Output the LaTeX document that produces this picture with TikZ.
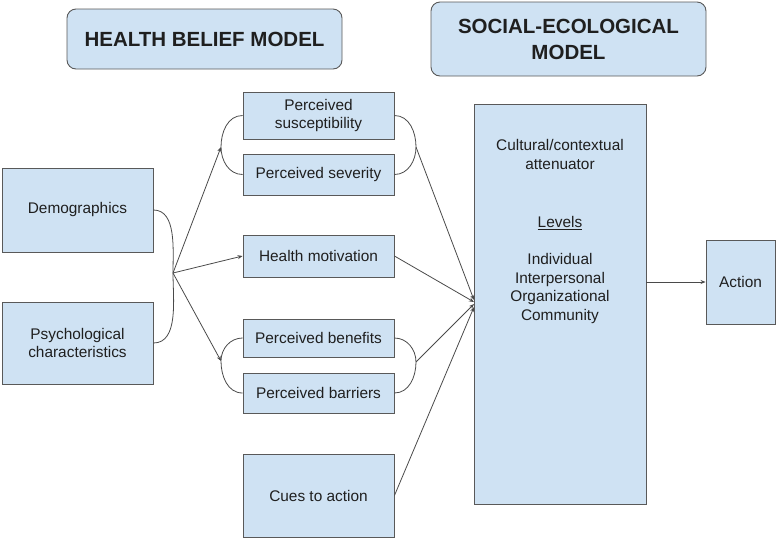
\documentclass[tikz,border=0pt]{standalone}
\usepackage{fontspec}
\setmainfont{Liberation Sans}
\usetikzlibrary{arrows.meta}
\definecolor{boxfill}{HTML}{CFE2F3}
\definecolor{boxline}{HTML}{595959}
\definecolor{conn}{HTML}{4A4A4A}
\definecolor{txt}{HTML}{1F1F1F}
\tikzset{
  box/.style={draw=boxline, fill=boxfill, line width=0.9pt, inner sep=0pt, align=center,
    text=txt, font=\fontsize{15.4}{18.6}\selectfont},
  titlebox/.style={box, rounded corners=9pt, font=\fontsize{20.5}{26}\selectfont\bfseries},
  link/.style={draw=conn, line width=0.8pt},
  arr/.style={link, -{Stealth[length=5pt,width=4pt]}},
}
\begin{document}
\begin{tikzpicture}[x=1pt,y=-1pt]
\useasboundingbox (0,0) rectangle (777,539);
% titles
\node[titlebox, minimum width=275pt, minimum height=60pt] (hbm) at (204.5,39) {HEALTH BELIEF MODEL};
\node[titlebox, minimum width=275pt, minimum height=74pt] (sem) at (568.5,39) {SOCIAL-ECOLOGICAL\\MODEL};
% left boxes
\node[box, minimum width=151pt, minimum height=84pt] (dem) at (77.5,210) {Demographics};
\node[box, minimum width=151pt, minimum height=82pt] (psy) at (77.5,343) {Psychological\\characteristics};
% middle boxes
\node[box, minimum width=151pt, minimum height=47pt] (sus) at (318.5,115.5) {Perceived\\susceptibility};
\node[box, minimum width=151pt, minimum height=41pt] (sev) at (318.5,174.5) {Perceived severity};
\node[box, minimum width=151pt, minimum height=42pt] (mot) at (318.5,256) {Health motivation};
\node[box, minimum width=151pt, minimum height=38pt] (ben) at (318.5,338) {Perceived benefits};
\node[box, minimum width=151pt, minimum height=40pt] (bar) at (318.5,393) {Perceived barriers};
\node[box, minimum width=151pt, minimum height=83pt] (cue) at (318.5,495.5) {Cues to action};
% SEM big box
\node[box, minimum width=172pt, minimum height=400pt] (big) at (560,304) {};
\node[align=center, text=txt, font=\fontsize{15.4}{18.6}\selectfont, anchor=north] (bigtxt) at (560,136)
  {Cultural/contextual\\attenuator\\[40pt]\underline{Levels}\\[18pt]Individual\\Interpersonal\\Organizational\\Community};
\node[box, minimum width=69pt, minimum height=84pt] (act) at (740.5,282) {Action};
% brace points
\coordinate (J) at (173,273);
\coordinate (L1) at (221,147);
\coordinate (R1) at (416,147);
\coordinate (L2) at (221,361);
\coordinate (R2) at (416,362);
\coordinate (T1) at (474,300);
\coordinate (T2) at (474,302);
\coordinate (T3) at (474,304);
\coordinate (T4) at (474,307);
% braces
\draw[link] (dem.east) to[out=0,in=90,looseness=0.9] (J) to[out=-90,in=0,looseness=0.9] (psy.east);
\draw[link] (sus.west) to[out=180,in=90] (L1) to[out=-90,in=180] (sev.west);
\draw[link] (sus.east) to[out=0,in=90] (R1) to[out=-90,in=0] (sev.east);
\draw[link] (ben.west) to[out=180,in=90] (L2) to[out=-90,in=180] (bar.west);
\draw[link] (ben.east) to[out=0,in=90] (R2) to[out=-90,in=0] (bar.east);
% arrows
\draw[arr] (J) -- (L1);
\draw[arr] (J) -- (mot.west);
\draw[arr] (J) -- (L2);
\draw[arr] (R1) -- (T1);
\draw[arr] (mot.east) -- (T2);
\draw[arr] (R2) -- (T3);
\draw[arr] (cue.east) -- (T4);
\draw[arr] (big.east |- act.west) -- (act.west);
\end{tikzpicture}
\end{document}
